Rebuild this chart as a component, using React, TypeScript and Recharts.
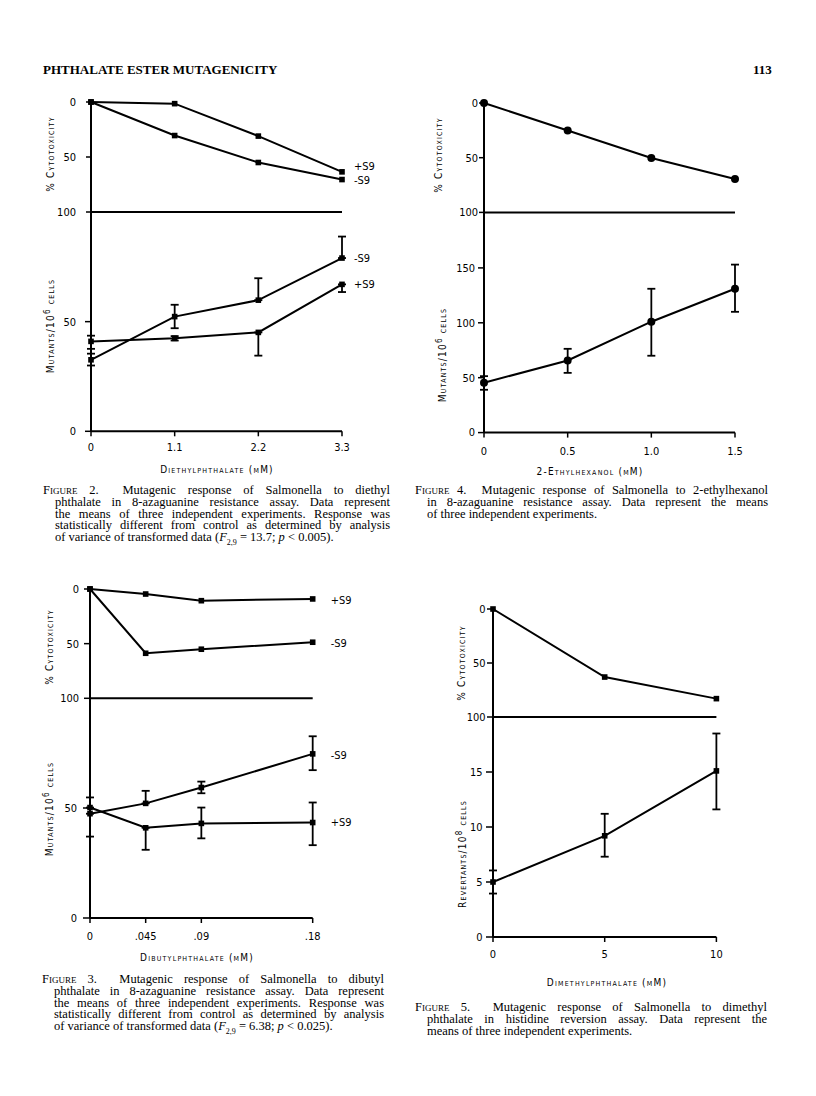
import { LineChart, Line, XAxis, YAxis, ErrorBar } from "recharts";

const FIG_FONT = "'DejaVu Sans Condensed', 'DejaVu Sans', sans-serif";
const TEXT_FONT = "'Liberation Serif', 'DejaVu Serif', serif";

// fig 2 - diethylphthalate
const depDose = [0, 1.1, 2.2, 3.3];
const depDoseLabels = ["0", "1.1", "2.2", "3.3"];
const depCytoPlus = [0, 1.5, 31, 63.5];
const depCytoMinus = [0, 30.5, 55, 70.5];
const depMutMinus = [32.6, 52.3, 59.8, 79];
const depMutMinusErr = [[2.6, 2.8], [5.3, 5.4], [0, 10], [0, 9.8]];
const depMutPlus = [41, 42.4, 45.1, 67];
const depMutPlusErr = [[3.4, 2.6], [1, 1], [10.6, 0], [3.5, 0]];

// fig 4 - 2-ethylhexanol
const ehDose = [0, 0.5, 1.0, 1.5];
const ehDoseLabels = ["0", "0.5", "1.0", "1.5"];
const ehCyto = [0, 25.2, 50.3, 69.4];
const ehMut = [45.4, 65.7, 101, 131];
const ehMutErr = [[6.4, 6], [11.3, 10.6], [31, 30], [21, 22]];

// fig 3 - dibutylphthalate
const dbpDose = [0, 0.045, 0.09, 0.18];
const dbpDoseLabels = ["0", ".045", ".09", ".18"];
const dbpCytoPlus = [0, 4.6, 10.7, 9.1];
const dbpCytoMinus = [0, 58.8, 55.1, 48.7];
const dbpMutMinus = [47.4, 52.1, 59.3, 74.6];
const dbpMutMinusErr = [[10.4, 0], [0, 5.7], [2.6, 2.7], [7.4, 8]];
const dbpMutPlus = [50.2, 41, 43, 43.4];
const dbpMutPlusErr = [[0, 4.6], [10, 0], [6.8, 7.2], [10.3, 9.1]];

// fig 5 - dimethylphthalate
const dmpDose = [0, 5, 10];
const dmpDoseLabels = ["0", "5", "10"];
const dmpCyto = [0, 63, 83];
const dmpRev = [5, 9.2, 15.1];
const dmpRevErr = [[1.05, 1.05], [1.9, 2], [3.5, 3.4]];

const rows = (dose: number[], cols: Record<string, any[]>) =>
  dose.map((x, i) => {
    const r: any = { x };
    Object.keys(cols).forEach((k) => (r[k] = cols[k][i]));
    return r;
  });

type Series = { key: string; err?: string; label?: string; dy?: number };

type PanelProps = {
  left: number;
  top: number;
  w: number;
  h: number;
  data: any[];
  xMax: number;
  yMax: number;
  yTicks: number[];
  reversed?: boolean;
  xTicks?: number[];
  xLabels?: string[];
  xTickMargin?: number;
  series: Series[];
  marker: "square" | "circle";
  yTickSize: number;
  yTickMargin: number;
  labelDx?: number;
};

function Panel(p: PanelProps) {
  const YW = 60, MT = 12, MR = 60;
  const XH = p.xTicks ? 30 : 1;
  const MB = p.xTicks ? 0 : 12;
  const last = p.data.length - 1;
  const tickStyle = { fill: "#000", fontSize: 11, fontFamily: FIG_FONT };
  return (
    <div style={{ position: "absolute", left: p.left - YW, top: p.top - MT }}>
      <LineChart
        width={YW + p.w + MR}
        height={MT + p.h + XH + MB}
        data={p.data}
        margin={{ top: MT, right: MR, bottom: MB, left: 0 }}
      >
        <XAxis
          type="number"
          dataKey="x"
          domain={[0, p.xMax]}
          height={XH}
          ticks={p.xTicks ?? []}
          interval={0}
          tick={p.xTicks ? tickStyle : false}
          tickFormatter={(v: number) => (p.xLabels ? p.xLabels[p.xTicks!.indexOf(v)] : "")}
          tickLine={p.xTicks ? { stroke: "#000", strokeWidth: 1.5 } : false}
          tickSize={5}
          tickMargin={p.xTickMargin ?? 6}
          axisLine={{ stroke: "#000", strokeWidth: 2 }}
        />
        <YAxis
          type="number"
          domain={[0, p.yMax]}
          reversed={p.reversed}
          ticks={p.yTicks}
          interval={0}
          width={YW}
          tick={tickStyle}
          tickLine={{ stroke: "#000", strokeWidth: 1.5 }}
          tickSize={p.yTickSize}
          tickMargin={p.yTickMargin}
          axisLine={{ stroke: "#000", strokeWidth: 2 }}
        />
        {p.series.map((s) => (
          <Line
            key={s.key}
            dataKey={s.key}
            type="linear"
            stroke="#000"
            strokeWidth={2}
            isAnimationActive={false}
            dot={(d: any) => {
              const { cx, cy, index } = d;
              return (
                <g key={`${s.key}-${index}`}>
                  {p.marker === "square" ? (
                    <rect x={cx - 2.8} y={cy - 2.8} width={5.6} height={5.6} fill="#000" />
                  ) : (
                    <circle cx={cx} cy={cy} r={4} fill="#000" />
                  )}
                  {s.label && index === last ? (
                    <text
                      x={cx + (p.labelDx ?? 12)}
                      y={cy + (s.dy ?? 0)}
                      dominantBaseline="central"
                      fontSize={11}
                      fontFamily={FIG_FONT}
                      fill="#000"
                    >
                      {s.label}
                    </text>
                  ) : null}
                </g>
              );
            }}
          >
            {s.err ? (
              <ErrorBar dataKey={s.err} direction="y" width={4} stroke="#000" strokeWidth={1.8} />
            ) : null}
          </Line>
        ))}
      </LineChart>
    </div>
  );
}

const smallCaps = {
  position: "absolute" as const,
  fontFamily: FIG_FONT,
  fontSize: 10,
  fontVariant: "small-caps" as const,
  letterSpacing: 1.2,
  whiteSpace: "nowrap" as const,
  color: "#000",
};

function VTitle({ x, y, children }: { x: number; y: number; children: any }) {
  return (
    <div style={{ ...smallCaps, left: x, top: y, transform: "translate(-50%,-50%) rotate(-90deg)" }}>
      {children}
    </div>
  );
}

function HTitle({ x, y, children }: { x: number; y: number; children: any }) {
  return <div style={{ ...smallCaps, left: x, top: y, transform: "translate(-50%,-50%)" }}>{children}</div>;
}

const LH = 11.7;

function Caption({ x, y, right, lines }: { x: number; y: number; right: number; lines: any[] }) {
  return (
    <div
      style={{
        position: "absolute",
        left: x,
        top: y - LH / 2,
        width: right - x,
        fontFamily: TEXT_FONT,
        fontSize: 12.5,
        lineHeight: `${LH}px`,
        color: "#000",
      }}
    >
      {lines.map((ln, i) => (
        <div
          key={i}
          style={{
            paddingLeft: i ? 12 : 0,
            height: LH,
            textAlign: "justify",
            textAlignLast: i < lines.length - 1 ? "justify" : "left",
          }}
        >
          {ln}
        </div>
      ))}
    </div>
  );
}

const fig = (n: number) => (
  <span style={{ fontVariant: "small-caps" }}>Figure {n}.&nbsp;&nbsp;</span>
);

const mutants = (
  <span>
    Mutants/10<sup style={{ fontSize: 8 }}>6</sup> cells
  </span>
);

export default function App() {
  return (
    <div style={{ position: "absolute", left: 0, top: 0, width: 816, height: 1096, background: "#fff" }}>
      <div
        style={{
          position: "absolute",
          left: 43,
          top: 62,
          fontFamily: TEXT_FONT,
          fontWeight: "bold",
          fontSize: 13,
        }}
      >
        PHTHALATE ESTER MUTAGENICITY
      </div>
      <div style={{ position: "absolute", left: 753, top: 62, fontFamily: TEXT_FONT, fontWeight: "bold", fontSize: 13 }}>
        113
      </div>

      {/* Figure 2 */}
      <Panel
        left={90.6}
        top={101.7}
        w={251}
        h={110}
        data={rows(depDose, { plus: depCytoPlus, minus: depCytoMinus })}
        xMax={3.3}
        yMax={100}
        yTicks={[0, 50, 100]}
        reversed
        series={[
          { key: "plus", label: "+S9", dy: -5 },
          { key: "minus", label: "-S9", dy: 1 },
        ]}
        marker="square"
        yTickSize={5}
        yTickMargin={10}
        labelDx={12}
      />
      <Panel
        left={90.6}
        top={211.7}
        w={251}
        h={219.3}
        data={rows(depDose, {
          minus: depMutMinus,
          minusErr: depMutMinusErr,
          plus: depMutPlus,
          plusErr: depMutPlusErr,
        })}
        xMax={3.3}
        yMax={100}
        yTicks={[0, 50]}
        xTicks={depDose}
        xLabels={depDoseLabels}
        xTickMargin={7}
        series={[
          { key: "minus", err: "minusErr", label: "-S9", dy: 0 },
          { key: "plus", err: "plusErr", label: "+S9", dy: 0 },
        ]}
        marker="square"
        yTickSize={6}
        yTickMargin={9}
        labelDx={12}
      />
      <VTitle x={50} y={154}>% Cytotoxicity</VTitle>
      <VTitle x={50} y={326}>{mutants}</VTitle>
      <HTitle x={217} y={469}>Diethylphthalate (mM)</HTitle>
      <Caption
        x={43}
        y={491}
        right={390}
        lines={[
          <>{fig(2)}Mutagenic response of Salmonella to diethyl</>,
          "phthalate in 8-azaguanine resistance assay. Data represent",
          "the means of three independent experiments. Response was",
          "statistically different from control as determined by analysis",
          <>
            of variance of transformed data (<i>F</i>
            <sub style={{ fontSize: 8 }}>2,9</sub> = 13.7; <i>p</i> &lt; 0.005).
          </>,
        ]}
      />

      {/* Figure 4 */}
      <Panel
        left={484}
        top={103.3}
        w={251}
        h={109.4}
        data={rows(ehDose, { v: ehCyto })}
        xMax={1.5}
        yMax={100}
        yTicks={[0, 50, 100]}
        reversed
        series={[{ key: "v" }]}
        marker="circle"
        yTickSize={5}
        yTickMargin={1}
      />
      <Panel
        left={484}
        top={212.7}
        w={251}
        h={219.6}
        data={rows(ehDose, { v: ehMut, e: ehMutErr })}
        xMax={1.5}
        yMax={200}
        yTicks={[0, 50, 100, 150]}
        xTicks={ehDose}
        xLabels={ehDoseLabels}
        xTickMargin={10}
        series={[{ key: "v", err: "e" }]}
        marker="circle"
        yTickSize={6}
        yTickMargin={3}
      />
      <VTitle x={438} y={155}>% Cytotoxicity</VTitle>
      <VTitle x={442} y={355}>{mutants}</VTitle>
      <HTitle x={590} y={471}>2-Ethylhexanol (mM)</HTitle>
      <Caption
        x={415}
        y={491}
        right={768}
        lines={[
          <>{fig(4)}Mutagenic response of Salmonella to 2-ethylhexanol</>,
          "in 8-azaguanine resistance assay. Data represent the means",
          "of three independent experiments.",
        ]}
      />

      {/* Figure 3 */}
      <Panel
        left={90}
        top={589}
        w={222.7}
        h={109.3}
        data={rows(dbpDose, { plus: dbpCytoPlus, minus: dbpCytoMinus })}
        xMax={0.18}
        yMax={100}
        yTicks={[0, 50, 100]}
        reversed
        series={[
          { key: "plus", label: "+S9", dy: 2 },
          { key: "minus", label: "-S9", dy: 1 },
        ]}
        marker="square"
        yTickSize={6}
        yTickMargin={5}
        labelDx={18}
      />
      <Panel
        left={90}
        top={698.3}
        w={222.7}
        h={220}
        data={rows(dbpDose, {
          minus: dbpMutMinus,
          minusErr: dbpMutMinusErr,
          plus: dbpMutPlus,
          plusErr: dbpMutPlusErr,
        })}
        xMax={0.18}
        yMax={100}
        yTicks={[0, 50]}
        xTicks={dbpDose}
        xLabels={dbpDoseLabels}
        xTickMargin={9}
        series={[
          { key: "minus", err: "minusErr", label: "-S9", dy: 2 },
          { key: "plus", err: "plusErr", label: "+S9", dy: 0 },
        ]}
        marker="square"
        yTickSize={7}
        yTickMargin={6}
        labelDx={18}
      />
      <VTitle x={49} y={647}>% Cytotoxicity</VTitle>
      <VTitle x={49} y={809}>{mutants}</VTitle>
      <HTitle x={197} y={957}>Dibutylphthalate (mM)</HTitle>
      <Caption
        x={42}
        y={980}
        right={384}
        lines={[
          <>{fig(3)}Mutagenic response of Salmonella to dibutyl</>,
          "phthalate in 8-azaguanine resistance assay. Data represent",
          "the means of three independent experiments. Response was",
          "statistically different from control as determined by analysis",
          <>
            of variance of transformed data (<i>F</i>
            <sub style={{ fontSize: 8 }}>2,9</sub> = 6.38; <i>p</i> &lt; 0.025).
          </>,
        ]}
      />

      {/* Figure 5 */}
      <Panel
        left={493.3}
        top={609.3}
        w={223.4}
        h={108}
        data={rows(dmpDose, { v: dmpCyto })}
        xMax={10}
        yMax={100}
        yTicks={[0, 50, 100]}
        reversed
        series={[{ key: "v" }]}
        marker="square"
        yTickSize={6}
        yTickMargin={1.5}
      />
      <Panel
        left={493.3}
        top={717.3}
        w={223.4}
        h={220}
        data={rows(dmpDose, { v: dmpRev, e: dmpRevErr })}
        xMax={10}
        yMax={20}
        yTicks={[0, 5, 10, 15]}
        xTicks={dmpDose}
        xLabels={dmpDoseLabels}
        xTickMargin={8}
        series={[{ key: "v", err: "e" }]}
        marker="square"
        yTickSize={7}
        yTickMargin={3.5}
      />
      <VTitle x={461} y={663}>% Cytotoxicity</VTitle>
      <VTitle x={462} y={854}>
        <span>
          Revertants/10<sup style={{ fontSize: 8 }}>8</sup> cells
        </span>
      </VTitle>
      <HTitle x={607} y={982}>Dimethylphthalate (mM)</HTitle>
      <Caption
        x={415}
        y={1008}
        right={767}
        lines={[
          <>{fig(5)}Mutagenic response of Salmonella to dimethyl</>,
          "phthalate in histidine reversion assay. Data represent the",
          "means of three independent experiments.",
        ]}
      />
    </div>
  );
}
